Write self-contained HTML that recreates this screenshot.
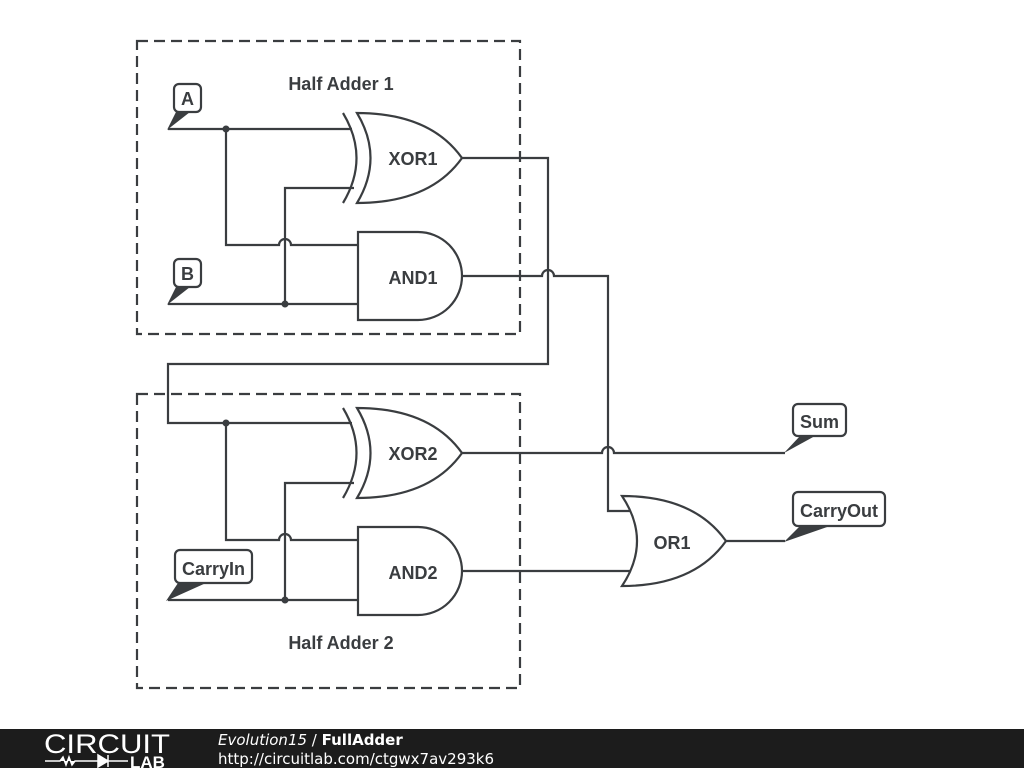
<!DOCTYPE html>
<html><head><meta charset="utf-8"><style>
html,body{margin:0;padding:0;width:1024px;height:768px;overflow:hidden;background:#fff}
svg{display:block}
text{font-family:"Liberation Sans",sans-serif}
</style></head><body>
<svg width="1024" height="768" viewBox="0 0 1024 768" xmlns="http://www.w3.org/2000/svg">
<g fill="none" stroke="#3a3d40" stroke-width="2.2">
<rect x="137" y="41" width="383" height="293" stroke-dasharray="11,6"/>
<rect x="137" y="394" width="383" height="294" stroke-dasharray="11,6"/>
<path d="M168 129 H352"/>
<path d="M226 129 V245 H279 A6 6 0 0 1 291 245 H358"/>
<path d="M168 304 H358"/>
<path d="M285 304 V188 H354"/>
<path d="M462 158 H548 V364 H168 V423 H352"/>
<path d="M462 276 H542 A6 6 0 0 1 554 276 H608 V511 H630"/>
<path d="M226 423 V540 H279 A6 6 0 0 1 291 540 H358"/>
<path d="M168 600 H358"/>
<path d="M285 600 V483 H354"/>
<path d="M462 453 H602 A6 6 0 0 1 614 453 H785"/>
<path d="M462 571 H632"/>
<path d="M726 541 H785"/>
<path d="M343 113 Q370 158 343 203"/>
<path d="M357 113 Q430 113 462 158 Q430 203 357 203 Q384 158 357 113 Z" fill="#fff"/>
<path d="M358 232 H418 A44 44 0 0 1 418 320 H358 Z" fill="#fff"/>
<path d="M343 408 Q370 453 343 498"/>
<path d="M357 408 Q430 408 462 453 Q430 498 357 498 Q384 453 357 408 Z" fill="#fff"/>
<path d="M358 527 H418 A44 44 0 0 1 418 615 H358 Z" fill="#fff"/>
<path d="M622 496 Q694 496 726 541 Q694 586 622 586 Q652 541 622 496 Z" fill="#fff"/>
<rect x="174" y="84" width="27" height="28" rx="5" fill="#fff"/>
<rect x="174" y="259" width="27" height="28" rx="5" fill="#fff"/>
<rect x="175" y="550" width="77" height="33" rx="5" fill="#fff"/>
<rect x="793" y="404" width="53" height="32" rx="5" fill="#fff"/>
<rect x="793" y="492" width="92" height="34" rx="5" fill="#fff"/>
</g>
<g fill="#3a3d40">
<path d="M176 112 L190 112 L167 130 Z"/>
<path d="M176 287 L190 287 L167 305 Z"/>
<path d="M178 583 L206 583 L166 601 Z"/>
<path d="M800 436 L815 436 L784 453 Z"/>
<path d="M800 526 L830 526 L784 542 Z"/>
<circle cx="226" cy="129" r="3.5"/>
<circle cx="285" cy="304" r="3.5"/>
<circle cx="226" cy="423" r="3.5"/>
<circle cx="285" cy="600" r="3.5"/>
</g>
<g fill="#3a3d40" font-weight="bold" font-size="18">
<text x="341" y="90" text-anchor="middle">Half Adder 1</text>
<text x="341" y="649" text-anchor="middle">Half Adder 2</text>
<text x="413" y="165" text-anchor="middle">XOR1</text>
<text x="413" y="284" text-anchor="middle">AND1</text>
<text x="413" y="460" text-anchor="middle">XOR2</text>
<text x="413" y="579" text-anchor="middle">AND2</text>
<text x="672" y="549" text-anchor="middle">OR1</text>
<text x="187.5" y="105" text-anchor="middle">A</text>
<text x="187.5" y="280" text-anchor="middle">B</text>
<text x="213.5" y="575" text-anchor="middle">CarryIn</text>
<text x="819.5" y="428" text-anchor="middle">Sum</text>
<text x="839" y="517" text-anchor="middle">CarryOut</text>
</g>
<rect x="0" y="729" width="1024" height="39" fill="#1c1c1c"/>
<text x="107" y="753" fill="#fff" font-size="27" text-anchor="middle" textLength="126" lengthAdjust="spacingAndGlyphs">CIRCUIT</text>
<path d="M45 761 H60 l3 -4 3 8 3 -8 3 8 3 -4 H98 M98 755 V767 L108 761 Z M108 755 V767 M108 761 H128" stroke="#fff" stroke-width="1.5" fill="#fff"/>
<text x="130" y="768" fill="#fff" font-size="17" font-weight="bold">LAB</text>
<text x="218" y="745" fill="#fff" font-size="15" style="font-family:'DejaVu Sans',sans-serif"><tspan font-style="italic">Evolution15</tspan> / <tspan font-weight="bold">FullAdder</tspan></text>
<text x="218" y="764" fill="#fff" font-size="15" style="font-family:'DejaVu Sans',sans-serif">http://circuitlab.com/ctgwx7av293k6</text>
</svg>
</body></html>
